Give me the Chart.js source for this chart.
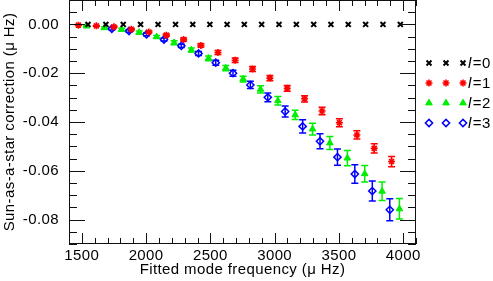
<!DOCTYPE html>
<html><head><meta charset="utf-8">
<script src="https://cdn.jsdelivr.net/npm/chart.js@4/dist/chart.umd.min.js"></script>
<style>html,body{margin:0;padding:0;background:#fff;overflow:hidden}#wrap{width:493px;height:281px}</style>
</head><body><div id="wrap"><canvas id="c" width="493" height="281"></canvas></div>
<script>
// ---- data ----
const freqL0 = [1548, 1687, 1822, 1957, 2093, 2229, 2363, 2496, 2630, 2764, 2899, 3034, 3169, 3304, 3438, 3573, 3708, 3843, 3978];
const corrL0 = [0, 0, 0, 0, 0, 0, 0, 0, 0, 0, 0, 0, 0, 0, 0, 0, 0, 0, 0];
const errL0  = [0, 0, 0, 0, 0, 0, 0, 0, 0, 0, 0, 0, 0, 0, 0, 0, 0, 0, 0];

const freqL1 = [1473, 1613, 1749, 1885, 2021, 2157, 2292, 2426, 2559, 2693, 2828, 2963, 3098, 3233, 3369, 3504, 3640, 3775, 3910];
const corrL1 = [-0.0003, -0.0006, -0.0010, -0.0020, -0.0031, -0.0044, -0.0062, -0.0086, -0.0115, -0.0147, -0.0183, -0.0220, -0.0262, -0.0305, -0.0355, -0.0403, -0.0453, -0.0508, -0.0562];
const errL1  = [0.0002, 0.0002, 0.0003, 0.0003, 0.0004, 0.0005, 0.0006, 0.0007, 0.0008, 0.0009, 0.0010, 0.0011, 0.0012, 0.0013, 0.0015, 0.0016, 0.0017, 0.0019, 0.0021];

const freqL2 = [1536, 1675, 1810, 1946, 2082, 2218, 2352, 2486, 2620, 2755, 2890, 3025, 3160, 3295, 3430, 3566, 3701, 3836, 3971];
const corrL2 = [-0.0007, -0.0014, -0.0021, -0.0033, -0.0051, -0.0075, -0.0105, -0.0139, -0.0179, -0.0224, -0.0266, -0.0313, -0.0371, -0.0429, -0.0486, -0.0548, -0.0612, -0.0684, -0.0756];
const errL2  = [0.0004, 0.0004, 0.0005, 0.0006, 0.0006, 0.0008, 0.0008, 0.0010, 0.0011, 0.0012, 0.0015, 0.0017, 0.0019, 0.0024, 0.0027, 0.0031, 0.0034, 0.0038, 0.0042];

const freqL3 = [1733, 1867, 2003, 2139, 2274, 2408, 2542, 2676, 2811, 2947, 3082, 3218, 3353, 3489, 3624, 3760, 3896];
const corrL3 = [-0.0018, -0.0027, -0.0041, -0.0062, -0.0088, -0.0119, -0.0157, -0.0200, -0.0248, -0.0299, -0.0357, -0.0418, -0.0479, -0.0544, -0.0613, -0.0683, -0.0760];
const errL3  = [0.0005, 0.0005, 0.0006, 0.0006, 0.0007, 0.0008, 0.0010, 0.0012, 0.0015, 0.0018, 0.0023, 0.0027, 0.0031, 0.0033, 0.0038, 0.0041, 0.0045];

const seriesLabels = ['0', '1', '2', '3'];
const xTickValues = [1500, 2000, 2500, 3000, 3500, 4000];
const yTickValues = [0, -0.02, -0.04, -0.06, -0.08];
const xMinorStep = 100;
const yMinorStep = 0.005;

// ---- styling ----
const FONT = '"Liberation Sans", Helvetica, Arial, sans-serif';
const FS = 15;
const RED = '#ff0000', GREEN = '#00ee00', BLUE = '#0000ff';

function pts(f, v) { return f.map((x, i) => ({x: x, y: v[i]})); }

const datasets = [
  {label: 'l=0', data: pts(freqL0, corrL0), errors: errL0, pointStyle: 'crossRot', pointRadius: 3.5, borderColor: '#000', backgroundColor: '#000', borderWidth: 2},
  {label: 'l=1', data: pts(freqL1, corrL1), errors: errL1, pointStyle: 'star', pointRadius: 3.5, borderColor: RED, backgroundColor: RED, borderWidth: 1.6},
  {label: 'l=2', data: pts(freqL2, corrL2), errors: errL2, pointStyle: 'triangle', pointRadius: 3.8, borderColor: GREEN, backgroundColor: GREEN, borderWidth: 1},
  {label: 'l=3', data: pts(freqL3, corrL3), errors: errL3, pointStyle: 'rectRot', pointRadius: 3.6, borderColor: BLUE, backgroundColor: 'rgba(0,0,0,0)', borderWidth: 1.5}
];

const spacing = {
  id: 'spacing',
  beforeInit(chart) { try { chart.ctx.letterSpacing = '0.4px'; } catch (e) {} },
  beforeDraw(chart) { try { chart.ctx.letterSpacing = '0.4px'; } catch (e) {} }
};

const errorBars = {
  id: 'errorBars',
  beforeDatasetsDraw(chart) {
    const ctx = chart.ctx, xs = chart.scales.x, ys = chart.scales.y, a = chart.chartArea;
    ctx.save();
    ctx.beginPath(); ctx.rect(a.left, a.top, a.right - a.left, a.bottom - a.top); ctx.clip();
    chart.data.datasets.forEach(ds => {
      ctx.strokeStyle = ds.borderColor; ctx.lineWidth = 1.5;
      ds.data.forEach((p, i) => {
        const e = ds.errors[i];
        if (!e) return;
        const x = xs.getPixelForValue(p.x);
        const y1 = ys.getPixelForValue(p.y + e), y2 = ys.getPixelForValue(p.y - e);
        ctx.beginPath();
        ctx.moveTo(x, y1); ctx.lineTo(x, y2);
        ctx.moveTo(x - 3.5, y1); ctx.lineTo(x + 3.5, y1);
        ctx.moveTo(x - 3.5, y2); ctx.lineTo(x + 3.5, y2);
        ctx.stroke();
      });
    });
    ctx.restore();
  }
};

function drawFrame(chart) {
  const ctx = chart.ctx, xs = chart.scales.x, ys = chart.scales.y, a = chart.chartArea;
  const L = Math.round(a.left), R = Math.round(a.right) - 1, T = Math.round(a.top), B = Math.round(a.bottom) - 1;
  ctx.save();
  ctx.fillStyle = '#111';
  ctx.fillRect(L, T, R - L + 1, 1);
  ctx.fillRect(L, B, R - L + 1, 1);
  ctx.fillRect(L, T, 1, B - T + 1);
  ctx.fillRect(R, T, 1, B - T + 1);
  for (let k = Math.ceil(xs.min / xMinorStep); k * xMinorStep <= xs.max; k++) {
    const v = k * xMinorStep;
    const x = Math.round(xs.getPixelForValue(v));
    const len = xTickValues.indexOf(v) >= 0 ? 11 : 6;
    ctx.fillRect(x, B - len + 1, 1, len);
    ctx.fillRect(x, T, 1, len);
  }
  const n0 = Math.ceil(ys.min / yMinorStep - 1e-9), n1 = Math.floor(ys.max / yMinorStep + 1e-9);
  for (let n = n0; n <= n1; n++) {
    const v = n * yMinorStep;
    const y = Math.round(ys.getPixelForValue(v));
    const major = yTickValues.some(t => Math.abs(t - v) < 1e-9);
    const len = major ? 16 : 8;
    ctx.fillRect(L, y, len, 1);
    ctx.fillRect(R - len + 1, y, len, 1);
  }
  ctx.restore();
}

function drawMarker(ctx, ds, x, y) {
  ctx.save();
  ctx.strokeStyle = ds.borderColor; ctx.fillStyle = ds.backgroundColor; ctx.lineWidth = ds.borderWidth;
  if (Chart.helpers && Chart.helpers.drawPoint) {
    Chart.helpers.drawPoint(ctx, {pointStyle: ds.pointStyle, radius: ds.pointRadius, rotation: 0, borderWidth: ds.borderWidth}, x, y);
  }
  ctx.restore();
}

const overlay = {
  id: 'overlay',
  afterDraw(chart) {
    const ctx = chart.ctx;
    drawFrame(chart);
    chart.data.datasets.forEach((ds, i) => {
      const y = 63 + 20 * i;
      [429, 446, 463].forEach(x => drawMarker(ctx, ds, x, y));
      ctx.save();
      ctx.fillStyle = '#000'; ctx.textBaseline = 'middle'; ctx.textAlign = 'left';
      ctx.font = 'italic ' + FS + 'px ' + FONT;
      ctx.fillText('l', 468, y + 1);
      const w = ctx.measureText('l').width;
      ctx.font = FS + 'px ' + FONT;
      ctx.fillText('=' + seriesLabels[i], 468 + w + 1, y + 1);
      ctx.restore();
    });
  }
};

function zeroPad(s) { s.paddingTop = 0; s.paddingBottom = 0; s.paddingLeft = 0; s.paddingRight = 0; }

new Chart(document.getElementById('c'), {
  type: 'scatter',
  data: {datasets: datasets},
  options: {
    responsive: false, animation: false, devicePixelRatio: 1,
    layout: {autoPadding: false, padding: {top: 0, right: 77, left: 0, bottom: 0}},
    plugins: {legend: {display: false}, tooltip: {enabled: false}},
    scales: {
      x: {
        type: 'linear', position: 'bottom', min: 1400, max: 4100,
        afterBuildTicks: s => { s.ticks = xTickValues.map(v => ({value: v})); },
        afterFit: s => { s.height = 37; zeroPad(s); },
        ticks: {color: '#000', font: {family: FONT, size: FS}, padding: 3, maxRotation: 0, autoSkip: false, callback: v => String(v)},
        grid: {display: false, drawTicks: false},
        border: {display: false},
        title: {display: true, text: 'Fitted mode frequency (\u03bc Hz)', color: '#000', font: {family: FONT, size: FS}, padding: {top: 0, bottom: 2}}
      },
      y: {
        type: 'linear', position: 'left', min: -0.09, max: 0.01,
        afterBuildTicks: s => { s.ticks = yTickValues.map(v => ({value: v})); },
        afterFit: s => { s.width = 69; zeroPad(s); },
        ticks: {color: '#000', font: {family: FONT, size: FS}, padding: 10, autoSkip: false, callback: v => v.toFixed(2)},
        grid: {display: false, drawTicks: false},
        border: {display: false},
        title: {display: true, text: 'Sun-as-a-star correction (\u03bc Hz)', color: '#000', font: {family: FONT, size: FS}, padding: {top: 1, bottom: 0}}
      }
    }
  },
  plugins: [spacing, errorBars, overlay]
});
</script></body></html>
